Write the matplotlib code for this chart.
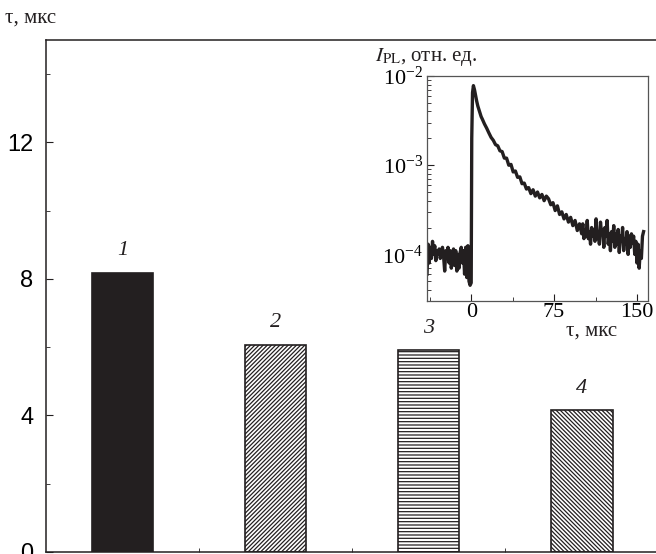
import matplotlib
matplotlib.use("Agg")
import matplotlib.pyplot as plt
from matplotlib.ticker import FixedLocator, LogLocator, NullFormatter, NullLocator

plt.rcParams['font.family'] = ['Liberation Serif', 'DejaVu Serif']
plt.rcParams['mathtext.fontset'] = 'stix'
plt.rcParams['hatch.linewidth'] = 0.9

INK = '#231f20'

# =========================
# data
# =========================
samples = [1, 2, 3, 4]
tau_values = [8.18, 6.06, 5.91, 4.15]
sample_labels = ['1', '2', '3', '4']
hatches = [None, '////////', '-----', '\\\\\\\\\\\\\\\\']
y_ticks = [0, 4, 8, 12]

# inset: PL decay curve
t_inset = [
    -40, -39, -38, -37, -36, -35, -34, -33, -32, -31, -30, -29, -28, -27, -26,
    -25, -24, -23, -22, -21, -20, -19, -18, -17, -16, -15, -14, -13, -12, -11,
    -10, -9, -8, -7, -6, -5, -4, -3, -2, -1, 0, 0.5, 1.2, 2, 3, 4, 5, 6, 7, 8,
    9, 10, 12, 14, 16, 18, 20, 22, 24, 26, 28, 30, 32, 34, 36, 38, 40, 42, 44,
    46, 48, 50, 52, 54, 56, 58, 60, 62, 64, 66, 68, 70, 72, 74, 76, 78, 80, 82,
    84, 86, 88, 90, 92, 94, 96, 98, 100, 101, 102, 103, 104, 105, 106, 107, 108,
    109, 110, 111, 112, 113, 114, 115, 116, 117, 118, 119, 120, 121, 122, 123,
    124, 125, 126, 127, 128, 129, 130, 131, 132, 133, 134, 135, 136, 137, 138,
    139, 140, 141, 142, 143, 144, 145, 146, 147, 148, 149, 150, 151, 152, 153,
    154, 155, 156,
]
i_inset = [
    6.0e-5, 1.3e-4, 8.0e-5, 1.2e-4, 9.0e-5, 1.4e-4, 1.0e-4, 1.25e-4, 8.5e-5,
    1.1e-4, 1.0e-4, 1.15e-4, 9.0e-5, 1.05e-4, 1.2e-4, 9.5e-5, 6.5e-5, 1.1e-4,
    9.0e-5, 1.2e-4, 8.0e-5, 1.1e-4, 7.0e-5, 9.0e-5, 1.15e-4, 7.5e-5, 1.1e-4,
    6.5e-5, 1.0e-4, 7.0e-5, 1.05e-4, 1.2e-4, 8.0e-5, 1.1e-4, 6.0e-5, 1.2e-4,
    5.5e-5, 1.25e-4, 5.0e-5, 4.5e-5, 4.8e-5, 2.0e-3, 6.5e-3, 7.8e-3, 7.0e-3,
    6.0e-3, 5.2e-3, 4.6e-3, 4.2e-3, 3.8e-3, 3.5e-3, 3.3e-3, 2.9e-3, 2.6e-3,
    2.3e-3, 2.05e-3, 1.9e-3, 1.7e-3, 1.65e-3, 1.45e-3, 1.42e-3, 1.2e-3,
    1.2e-3, 1.0e-3, 1.02e-3, 8.4e-4, 8.6e-4, 7.3e-4, 7.4e-4, 6.2e-4, 6.3e-4,
    5.4e-4, 5.6e-4, 4.8e-4, 5.3e-4, 4.5e-4, 5.0e-4, 4.3e-4, 4.7e-4, 4.0e-4,
    4.5e-4, 4.2e-4, 3.6e-4, 3.8e-4, 3.1e-4, 3.5e-4, 2.8e-4, 3.0e-4, 2.5e-4,
    2.8e-4, 2.3e-4, 2.6e-4, 2.1e-4, 2.4e-4, 1.85e-4, 2.2e-4, 1.7e-4, 2.2e-4,
    1.5e-4, 1.9e-4, 1.6e-4, 2.4e-4, 1.5e-4, 1.8e-4, 1.3e-4, 2.0e-4, 1.6e-4,
    1.9e-4, 1.4e-4, 2.5e-4, 1.5e-4, 1.8e-4, 1.3e-4, 2.3e-4, 1.7e-4, 1.9e-4,
    1.2e-4, 2.0e-4, 1.6e-4, 2.4e-4, 1.3e-4, 1.7e-4, 1.1e-4, 1.8e-4, 1.4e-4,
    2.1e-4, 1.2e-4, 1.7e-4, 1.3e-4, 1.9e-4, 1.05e-4, 1.6e-4, 1.4e-4, 2.0e-4,
    1.1e-4, 1.5e-4, 1.3e-4, 1.8e-4, 1.0e-4, 1.6e-4, 1.2e-4, 1.7e-4, 1.35e-4,
    1.6e-4, 1.0e-4, 1.4e-4, 8.0e-5, 1.3e-4, 7.0e-5, 1.1e-4, 9.0e-5, 1.6e-4,
    1.8e-4,
]

# =========================
# main bar chart
# =========================
fig = plt.figure(figsize=(6.56, 5.54), dpi=100)
ax = fig.add_axes([46 / 656, 2 / 554, 612.5 / 656, 512 / 554])

for x, v, h in zip(samples, tau_values, hatches):
    if h is None:
        ax.bar(x, v, width=0.4, color=INK, edgecolor=INK, linewidth=1.2)
    else:
        ax.bar(x, v, width=0.4, color='white', edgecolor=INK, hatch=h,
               linewidth=1.2)

for x, v, lab in zip(samples, tau_values, sample_labels):
    ax.text(x, v + 0.65, lab, ha='center', va='center', style='italic',
            fontsize=16, color=INK)

ax.set_xlim(0.5, 4.5)
ax.set_ylim(0, 15)
ax.yaxis.set_major_locator(FixedLocator(y_ticks))
ax.yaxis.set_minor_locator(FixedLocator([2, 6, 10, 14]))
ax.xaxis.set_major_locator(NullLocator())
ax.xaxis.set_minor_locator(FixedLocator([1.5, 2.5, 3.5]))
ax.tick_params(axis='y', which='both', direction='in', right=False, pad=9,
               labelsize=17, color=INK)
ax.tick_params(axis='y', which='major', length=5)
ax.tick_params(axis='y', which='minor', length=3)
ax.tick_params(axis='x', which='both', direction='in', top=False, length=3,
               color=INK)
for lab in ax.get_yticklabels():
    lab.set_fontfamily('Liberation Sans')
for sp in ax.spines.values():
    sp.set_linewidth(1.1)
    sp.set_color(INK)
ax.spines['right'].set_visible(False)

fig.text(5 / 656, 1 - 18 / 554, 'τ, мкс', ha='left', va='center',
         fontsize=15, color=INK)

# =========================
# inset
# =========================
ins = fig.add_axes([427 / 656, 1 - 301 / 554, 221 / 656, 225 / 554])
ins.plot(t_inset, i_inset, color=INK, linewidth=2.4)
ins.set_yscale('log')
ins.set_xlim(-40, 160)
ins.set_ylim(3e-5, 1e-2)
ins.xaxis.set_major_locator(FixedLocator([0, 75, 150]))
ins.xaxis.set_minor_locator(FixedLocator([-37.5, 37.5, 112.5]))
ins.yaxis.set_major_locator(LogLocator(base=10, numticks=10))
ins.yaxis.set_minor_locator(LogLocator(base=10, subs=range(2, 10), numticks=10))
ins.yaxis.set_minor_formatter(NullFormatter())
ins.tick_params(which='both', direction='in', top=False, right=False,
                labelsize=16, color=INK)
ins.tick_params(axis='y', which='major', length=5, pad=3)
ins.tick_params(axis='y', which='minor', length=3)
ins.tick_params(axis='x', which='major', length=5, pad=1.5)
ins.tick_params(axis='x', which='minor', length=3)
for sp in ins.spines.values():
    sp.set_linewidth(0.9)
    sp.set_color('#555555')

fig.text(375 / 656, 1 - 57 / 554, r'$I_{\rm PL}$, отн. ед.', ha='left',
         va='center', fontsize=15, color=INK)
fig.text(592 / 656, 1 - 331 / 554, 'τ, мкс', ha='center', va='center',
         fontsize=15, color=INK)

fig.savefig('out.png', dpi=100)
